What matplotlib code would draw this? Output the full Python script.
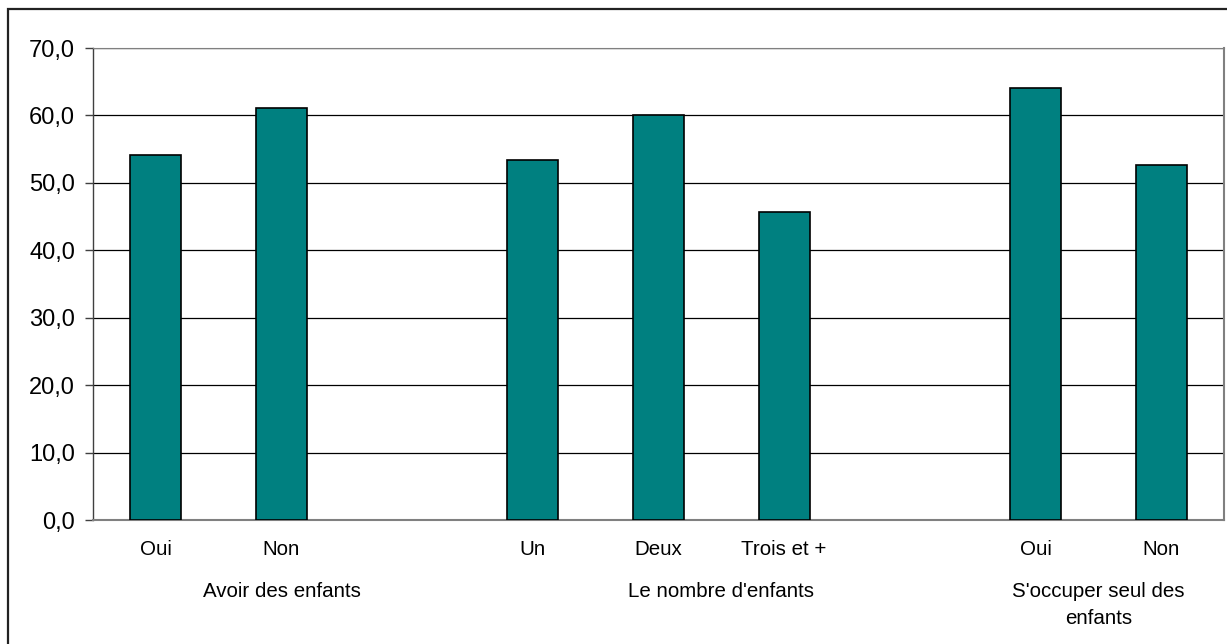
import numpy as np
import matplotlib
matplotlib.use("Agg")
import matplotlib.pyplot as plt
from matplotlib.patches import Rectangle

plt.rcParams['font.family'] = ['Liberation Sans', 'DejaVu Sans']

# catégories (les cases vides séparent les groupes)
categories = ["Oui", "Non", "", "Un", "Deux", "Trois et +", "", "Oui", "Non"]
values = [54.1, 61.1, np.nan, 53.4, 60.0, 45.7, np.nan, 64.0, 52.7]
groups = ["Avoir des enfants", "Le nombre d'enfants", "S'occuper seul des\nenfants"]
group_pos = [1.0, 4.5, 7.5]
yticks = [0, 10, 20, 30, 40, 50, 60, 70]

fig = plt.figure(figsize=(12.27, 6.44), dpi=100)
ax = fig.add_axes([93 / 1227, 1 - 520 / 644, (1224 - 93) / 1227, (520 - 48) / 644])

x = np.arange(len(categories))
ax.bar(x, values, width=0.405, color="#008080", edgecolor="black", linewidth=1.2, zorder=3)

ax.set_xlim(-0.5, len(categories) - 0.5)
ax.set_ylim(0, 70)
ax.set_yticks(yticks)
ax.set_yticklabels([f"{v:.1f}".replace(".", ",") for v in yticks], fontsize=17)
ax.set_xticks(x)
ax.set_xticklabels(categories, fontsize=14.8)
ax.tick_params(axis="x", length=0, pad=14.5)
ax.tick_params(axis="y", length=6, width=1, color="#404040", pad=7)

ax.yaxis.grid(True, color="black", linewidth=0.9, zorder=0)
ax.set_axisbelow(True)
ax.spines["left"].set_color("#404040")
ax.spines["left"].set_linewidth(1.0)
ax.spines["bottom"].set_color("#808080")
ax.spines["bottom"].set_linewidth(1.5)
ax.spines["top"].set_color("#808080")
ax.spines["right"].set_color("#808080")
ax.spines["right"].set_linewidth(1.5)

# libellés de groupe sous les catégories
trans = ax.get_xaxis_transform()
for pos, label in zip(group_pos, groups):
    ax.text(pos, -(582 - 520) / 472, label, transform=trans, ha="center", va="top",
            fontsize=14.8, linespacing=1.5)

# cadre extérieur (coupé à droite et en bas)
fig.patches.append(Rectangle((8 / 1227, -0.05), 1.1, 1 - 9 / 644 + 0.05,
                             transform=fig.transFigure, fill=False,
                             edgecolor="#222222", linewidth=1.6))

fig.savefig("out.png", dpi=100)
plt.close(fig)
